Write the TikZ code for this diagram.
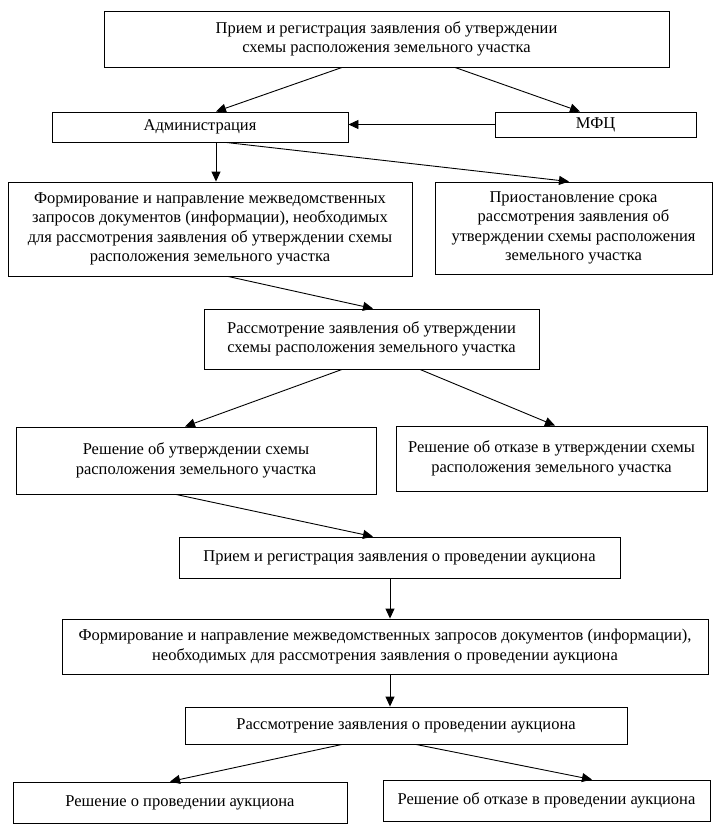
\documentclass[tikz,border=0pt]{standalone}
\usepackage{fontspec}
\setmainfont{Liberation Serif}
\usetikzlibrary{arrows.meta}
\begin{document}
\begin{tikzpicture}[x=1pt,y=-1pt,
  box/.style={draw,line width=0.9pt,rectangle,inner sep=0pt,align=center,
    font=\fontsize{16.5}{19.3}\selectfont},
  arr/.style={line width=0.9pt,-{Triangle[length=10pt,width=9pt]}}]
\useasboundingbox (0,0) rectangle (722,832);
\node[box,minimum width=565pt,minimum height=56pt] (b1) at (386.5,39) {Прием и регистрация заявления об утверждении\\схемы расположения земельного участка};
\node[box,minimum width=296pt,minimum height=30pt] (adm) at (200,127) {Администрация};
\node[box,minimum width=201pt,minimum height=25pt] (mfc) at (595.5,124.5) {МФЦ};
\node[box,minimum width=404pt,minimum height=94pt] (f1) at (210,229) {Формирование и направление межведомственных\\запросов документов (информации), необходимых\\для рассмотрения заявления об утверждении схемы\\расположения земельного участка};
\node[box,minimum width=277pt,minimum height=92pt] (pr) at (573.5,228) {Приостановление срока\\рассмотрения заявления об\\утверждении схемы расположения\\земельного участка};
\node[box,minimum width=335pt,minimum height=60pt] (r1) at (371.5,339) {Рассмотрение заявления об утверждении\\схемы расположения земельного участка};
\node[box,minimum width=360pt,minimum height=67pt] (ru) at (196,460.5) {Решение об утверждении схемы\\расположения земельного участка};
\node[box,minimum width=311pt,minimum height=65pt] (ou) at (551.5,458.5) {Решение об отказе в утверждении схемы\\расположения земельного участка};
\node[box,minimum width=441pt,minimum height=41pt] (pa) at (399.5,557.5) {Прием и регистрация заявления о проведении аукциона};
\node[box,minimum width=646pt,minimum height=55pt] (fa) at (385,646.5) {Формирование и направление межведомственных запросов документов (информации),\\необходимых для рассмотрения заявления о проведении аукциона};
\node[box,minimum width=442pt,minimum height=37pt] (ra) at (406,725.5) {Рассмотрение заявления о проведении аукциона};
\node[box,minimum width=334pt,minimum height=41pt] (rp) at (180,802.5) {Решение о проведении аукциона};
\node[box,minimum width=327pt,minimum height=41pt] (op) at (546.5,800.5) {Решение об отказе в проведении аукциона};

\draw[arr] ([xshift=-44.5pt]b1.south) -- ([xshift=16pt]adm.north);
\draw[arr] ([xshift=68.5pt]b1.south) -- ([xshift=-15.5pt]mfc.north);
\draw[arr] (mfc.west) -- (mfc.west -| adm.east);
\draw[arr] ([xshift=16pt]adm.south) -- ([xshift=6pt]f1.north);
\draw[arr] ([xshift=26pt]adm.south) -- ([xshift=-4.5pt]pr.north);
\draw[arr] ([xshift=18pt]f1.south) -- ([xshift=1.5pt]r1.north);
\draw[arr] ([xshift=-29.5pt]r1.south) -- ([xshift=-11pt]ru.north);
\draw[arr] ([xshift=48.5pt]r1.south) -- ([xshift=3.5pt]ou.north);
\draw[arr] ([xshift=-20pt]ru.south) -- ([xshift=-26.5pt]pa.north);
\draw[arr] ([xshift=-9.5pt]pa.south) -- ([xshift=5pt]fa.north);
\draw[arr] ([xshift=5pt]fa.south) -- ([xshift=-16pt]ra.north);
\draw[arr] ([xshift=-64pt]ra.south) -- ([xshift=-10pt]rp.north);
\draw[arr] ([xshift=10pt]ra.south) -- ([xshift=45.5pt]op.north);
\end{tikzpicture}
\end{document}
